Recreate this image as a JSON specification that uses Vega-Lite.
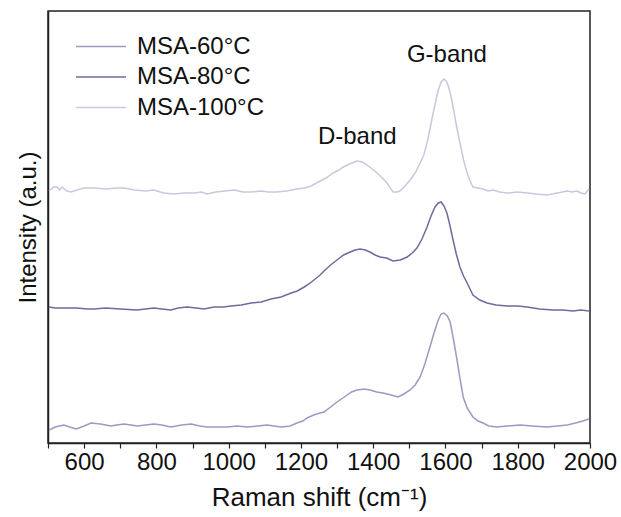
{
  "$schema": "https://vega.github.io/schema/vega-lite/v6.json",
  "autosize": "none",
  "padding": {"left": 48, "top": 11, "right": 31, "bottom": 74},
  "width": 542,
  "height": 432,
  "config": {
    "font": "Liberation Sans",
    "view": {"stroke": "#222", "strokeWidth": 1.5}
  },
  "datasets": {
    "spectra": [
      {"s":"MSA-100°C","x":503,"y":252},{"s":"MSA-100°C","x":515,"y":256},{"s":"MSA-100°C","x":525,"y":256},{"s":"MSA-100°C","x":532,"y":253},{"s":"MSA-100°C","x":539,"y":256},{"s":"MSA-100°C","x":552,"y":252},{"s":"MSA-100°C","x":564,"y":251},{"s":"MSA-100°C","x":580,"y":253},{"s":"MSA-100°C","x":600,"y":255},{"s":"MSA-100°C","x":627,"y":255},{"s":"MSA-100°C","x":660,"y":254},{"s":"MSA-100°C","x":690,"y":255},{"s":"MSA-100°C","x":710,"y":255},{"s":"MSA-100°C","x":740,"y":253},{"s":"MSA-100°C","x":770,"y":252},{"s":"MSA-100°C","x":793,"y":253},{"s":"MSA-100°C","x":820,"y":250},{"s":"MSA-100°C","x":849,"y":249},{"s":"MSA-100°C","x":875,"y":250},{"s":"MSA-100°C","x":904,"y":250},{"s":"MSA-100°C","x":925,"y":251},{"s":"MSA-100°C","x":940,"y":249},{"s":"MSA-100°C","x":965,"y":251},{"s":"MSA-100°C","x":990,"y":252},{"s":"MSA-100°C","x":1015,"y":253},{"s":"MSA-100°C","x":1040,"y":251},{"s":"MSA-100°C","x":1062,"y":251},{"s":"MSA-100°C","x":1090,"y":252},{"s":"MSA-100°C","x":1110,"y":251},{"s":"MSA-100°C","x":1134,"y":251},{"s":"MSA-100°C","x":1160,"y":252},{"s":"MSA-100°C","x":1189,"y":254},{"s":"MSA-100°C","x":1210,"y":255},{"s":"MSA-100°C","x":1228,"y":257},{"s":"MSA-100°C","x":1253,"y":262},{"s":"MSA-100°C","x":1270,"y":265},{"s":"MSA-100°C","x":1289,"y":270},{"s":"MSA-100°C","x":1305,"y":273},{"s":"MSA-100°C","x":1317,"y":276},{"s":"MSA-100°C","x":1335,"y":279},{"s":"MSA-100°C","x":1355,"y":282},{"s":"MSA-100°C","x":1370,"y":281},{"s":"MSA-100°C","x":1383,"y":278},{"s":"MSA-100°C","x":1397,"y":274},{"s":"MSA-100°C","x":1411,"y":270},{"s":"MSA-100°C","x":1425,"y":265},{"s":"MSA-100°C","x":1438,"y":260},{"s":"MSA-100°C","x":1447,"y":255},{"s":"MSA-100°C","x":1455,"y":251},{"s":"MSA-100°C","x":1465,"y":251},{"s":"MSA-100°C","x":1474,"y":252},{"s":"MSA-100°C","x":1488,"y":257},{"s":"MSA-100°C","x":1502,"y":263},{"s":"MSA-100°C","x":1516,"y":270},{"s":"MSA-100°C","x":1530,"y":280},{"s":"MSA-100°C","x":1540,"y":288},{"s":"MSA-100°C","x":1549,"y":300},{"s":"MSA-100°C","x":1557,"y":314},{"s":"MSA-100°C","x":1566,"y":330},{"s":"MSA-100°C","x":1573,"y":342},{"s":"MSA-100°C","x":1580,"y":353},{"s":"MSA-100°C","x":1588,"y":361},{"s":"MSA-100°C","x":1596,"y":364},{"s":"MSA-100°C","x":1602,"y":362},{"s":"MSA-100°C","x":1607,"y":358},{"s":"MSA-100°C","x":1614,"y":349},{"s":"MSA-100°C","x":1621,"y":336},{"s":"MSA-100°C","x":1630,"y":318},{"s":"MSA-100°C","x":1640,"y":300},{"s":"MSA-100°C","x":1650,"y":283},{"s":"MSA-100°C","x":1660,"y":270},{"s":"MSA-100°C","x":1668,"y":262},{"s":"MSA-100°C","x":1676,"y":256},{"s":"MSA-100°C","x":1690,"y":255},{"s":"MSA-100°C","x":1704,"y":254},{"s":"MSA-100°C","x":1718,"y":252},{"s":"MSA-100°C","x":1732,"y":253},{"s":"MSA-100°C","x":1750,"y":251},{"s":"MSA-100°C","x":1771,"y":250},{"s":"MSA-100°C","x":1800,"y":251},{"s":"MSA-100°C","x":1826,"y":250},{"s":"MSA-100°C","x":1850,"y":249},{"s":"MSA-100°C","x":1881,"y":248},{"s":"MSA-100°C","x":1910,"y":250},{"s":"MSA-100°C","x":1937,"y":252},{"s":"MSA-100°C","x":1950,"y":251},{"s":"MSA-100°C","x":1964,"y":252},{"s":"MSA-100°C","x":1975,"y":250},{"s":"MSA-100°C","x":1986,"y":249},{"s":"MSA-100°C","x":1997,"y":254},
      {"s":"MSA-80°C","x":503,"y":136},{"s":"MSA-80°C","x":520,"y":135},{"s":"MSA-80°C","x":544,"y":135},{"s":"MSA-80°C","x":580,"y":135},{"s":"MSA-80°C","x":610,"y":134},{"s":"MSA-80°C","x":627,"y":134},{"s":"MSA-80°C","x":660,"y":135},{"s":"MSA-80°C","x":700,"y":134},{"s":"MSA-80°C","x":746,"y":133},{"s":"MSA-80°C","x":770,"y":134},{"s":"MSA-80°C","x":793,"y":135},{"s":"MSA-80°C","x":815,"y":134},{"s":"MSA-80°C","x":840,"y":133},{"s":"MSA-80°C","x":860,"y":135},{"s":"MSA-80°C","x":885,"y":136},{"s":"MSA-80°C","x":910,"y":135},{"s":"MSA-80°C","x":932,"y":134},{"s":"MSA-80°C","x":960,"y":136},{"s":"MSA-80°C","x":985,"y":136},{"s":"MSA-80°C","x":1007,"y":137},{"s":"MSA-80°C","x":1035,"y":138},{"s":"MSA-80°C","x":1062,"y":140},{"s":"MSA-80°C","x":1090,"y":141},{"s":"MSA-80°C","x":1117,"y":144},{"s":"MSA-80°C","x":1145,"y":146},{"s":"MSA-80°C","x":1173,"y":150},{"s":"MSA-80°C","x":1190,"y":152},{"s":"MSA-80°C","x":1209,"y":156},{"s":"MSA-80°C","x":1222,"y":159},{"s":"MSA-80°C","x":1236,"y":163},{"s":"MSA-80°C","x":1253,"y":168},{"s":"MSA-80°C","x":1264,"y":172},{"s":"MSA-80°C","x":1282,"y":178},{"s":"MSA-80°C","x":1300,"y":183},{"s":"MSA-80°C","x":1318,"y":188},{"s":"MSA-80°C","x":1336,"y":191},{"s":"MSA-80°C","x":1350,"y":193},{"s":"MSA-80°C","x":1364,"y":194},{"s":"MSA-80°C","x":1378,"y":193},{"s":"MSA-80°C","x":1391,"y":191},{"s":"MSA-80°C","x":1405,"y":188},{"s":"MSA-80°C","x":1419,"y":186},{"s":"MSA-80°C","x":1437,"y":185},{"s":"MSA-80°C","x":1455,"y":182},{"s":"MSA-80°C","x":1475,"y":183},{"s":"MSA-80°C","x":1494,"y":186},{"s":"MSA-80°C","x":1508,"y":190},{"s":"MSA-80°C","x":1521,"y":195},{"s":"MSA-80°C","x":1535,"y":204},{"s":"MSA-80°C","x":1549,"y":216},{"s":"MSA-80°C","x":1560,"y":227},{"s":"MSA-80°C","x":1571,"y":236},{"s":"MSA-80°C","x":1580,"y":240},{"s":"MSA-80°C","x":1588,"y":241},{"s":"MSA-80°C","x":1596,"y":237},{"s":"MSA-80°C","x":1604,"y":230},{"s":"MSA-80°C","x":1612,"y":218},{"s":"MSA-80°C","x":1621,"y":203},{"s":"MSA-80°C","x":1630,"y":189},{"s":"MSA-80°C","x":1640,"y":176},{"s":"MSA-80°C","x":1650,"y":167},{"s":"MSA-80°C","x":1660,"y":160},{"s":"MSA-80°C","x":1676,"y":148},{"s":"MSA-80°C","x":1695,"y":143},{"s":"MSA-80°C","x":1715,"y":140},{"s":"MSA-80°C","x":1740,"y":138},{"s":"MSA-80°C","x":1771,"y":137},{"s":"MSA-80°C","x":1800,"y":137},{"s":"MSA-80°C","x":1826,"y":136},{"s":"MSA-80°C","x":1860,"y":134},{"s":"MSA-80°C","x":1898,"y":133},{"s":"MSA-80°C","x":1925,"y":133},{"s":"MSA-80°C","x":1953,"y":132},{"s":"MSA-80°C","x":1975,"y":133},{"s":"MSA-80°C","x":1997,"y":132},
      {"s":"MSA-60°C","x":503,"y":13},{"s":"MSA-60°C","x":520,"y":16},{"s":"MSA-60°C","x":544,"y":18},{"s":"MSA-60°C","x":560,"y":16},{"s":"MSA-60°C","x":578,"y":14},{"s":"MSA-60°C","x":600,"y":17},{"s":"MSA-60°C","x":619,"y":20},{"s":"MSA-60°C","x":645,"y":19},{"s":"MSA-60°C","x":674,"y":17},{"s":"MSA-60°C","x":690,"y":18},{"s":"MSA-60°C","x":710,"y":19},{"s":"MSA-60°C","x":730,"y":18},{"s":"MSA-60°C","x":746,"y":17},{"s":"MSA-60°C","x":770,"y":18},{"s":"MSA-60°C","x":793,"y":19},{"s":"MSA-60°C","x":815,"y":18},{"s":"MSA-60°C","x":840,"y":16},{"s":"MSA-60°C","x":870,"y":18},{"s":"MSA-60°C","x":896,"y":19},{"s":"MSA-60°C","x":920,"y":17},{"s":"MSA-60°C","x":940,"y":16},{"s":"MSA-60°C","x":970,"y":16},{"s":"MSA-60°C","x":995,"y":16},{"s":"MSA-60°C","x":1025,"y":17},{"s":"MSA-60°C","x":1051,"y":16},{"s":"MSA-60°C","x":1080,"y":17},{"s":"MSA-60°C","x":1106,"y":18},{"s":"MSA-60°C","x":1125,"y":17},{"s":"MSA-60°C","x":1145,"y":16},{"s":"MSA-60°C","x":1170,"y":17},{"s":"MSA-60°C","x":1189,"y":20},{"s":"MSA-60°C","x":1205,"y":22},{"s":"MSA-60°C","x":1217,"y":25},{"s":"MSA-60°C","x":1235,"y":28},{"s":"MSA-60°C","x":1253,"y":30},{"s":"MSA-60°C","x":1264,"y":31},{"s":"MSA-60°C","x":1282,"y":36},{"s":"MSA-60°C","x":1300,"y":41},{"s":"MSA-60°C","x":1320,"y":46},{"s":"MSA-60°C","x":1340,"y":51},{"s":"MSA-60°C","x":1355,"y":53},{"s":"MSA-60°C","x":1375,"y":54},{"s":"MSA-60°C","x":1391,"y":53},{"s":"MSA-60°C","x":1410,"y":51},{"s":"MSA-60°C","x":1427,"y":50},{"s":"MSA-60°C","x":1450,"y":48},{"s":"MSA-60°C","x":1469,"y":46},{"s":"MSA-60°C","x":1485,"y":49},{"s":"MSA-60°C","x":1502,"y":53},{"s":"MSA-60°C","x":1516,"y":58},{"s":"MSA-60°C","x":1530,"y":66},{"s":"MSA-60°C","x":1543,"y":79},{"s":"MSA-60°C","x":1557,"y":96},{"s":"MSA-60°C","x":1570,"y":112},{"s":"MSA-60°C","x":1580,"y":123},{"s":"MSA-60°C","x":1588,"y":129},{"s":"MSA-60°C","x":1596,"y":130},{"s":"MSA-60°C","x":1605,"y":127},{"s":"MSA-60°C","x":1613,"y":121},{"s":"MSA-60°C","x":1622,"y":104},{"s":"MSA-60°C","x":1632,"y":83},{"s":"MSA-60°C","x":1640,"y":65},{"s":"MSA-60°C","x":1649,"y":46},{"s":"MSA-60°C","x":1660,"y":35},{"s":"MSA-60°C","x":1676,"y":26},{"s":"MSA-60°C","x":1690,"y":22},{"s":"MSA-60°C","x":1704,"y":20},{"s":"MSA-60°C","x":1720,"y":17},{"s":"MSA-60°C","x":1743,"y":16},{"s":"MSA-60°C","x":1770,"y":17},{"s":"MSA-60°C","x":1807,"y":18},{"s":"MSA-60°C","x":1840,"y":17},{"s":"MSA-60°C","x":1881,"y":16},{"s":"MSA-60°C","x":1910,"y":17},{"s":"MSA-60°C","x":1937,"y":18},{"s":"MSA-60°C","x":1960,"y":20},{"s":"MSA-60°C","x":1980,"y":22},{"s":"MSA-60°C","x":1997,"y":24}
    ],
    "labels": [
      {"label": "D-band", "x": 1356, "y": 306},
      {"label": "G-band", "x": 1604, "y": 388}
    ]
  },
  "encoding": {
    "x": {
      "field": "x", "type": "quantitative",
      "scale": {"domain": [500, 2000], "nice": false, "zero": false},
      "axis": {
        "title": "Raman shift (cm⁻¹)",
        "values": [500,600,700,800,900,1000,1100,1200,1300,1400,1500,1600,1700,1800,1900,2000],
        "labelExpr": "datum.value % 200 == 0 ? format(datum.value, 'd') : ''",
        "grid": false,
        "domainColor": "#222", "domainWidth": 1.5,
        "tickColor": "#222", "tickSize": 5, "tickWidth": 1.2,
        "labelFontSize": 24, "labelColor": "#111", "labelPadding": 2,
        "labelFlush": false, "labelOverlap": false,
        "titleFontSize": 26, "titleFontWeight": "normal", "titleColor": "#111", "titlePadding": 10
      }
    },
    "y": {
      "field": "y", "type": "quantitative",
      "scale": {"domain": [0, 432], "nice": false},
      "axis": {
        "title": "Intensity (a.u.)",
        "labels": false, "ticks": false, "grid": false,
        "domainColor": "#222", "domainWidth": 1.5,
        "titleFontSize": 24, "titleFontWeight": "normal", "titleColor": "#111", "titlePadding": 8
      }
    }
  },
  "layer": [
    {
      "data": {"name": "spectra"},
      "mark": {"type": "line", "strokeWidth": 1.5, "interpolate": "linear"},
      "encoding": {
        "color": {
          "field": "s", "type": "nominal",
          "scale": {"domain": ["MSA-60°C", "MSA-80°C", "MSA-100°C"], "range": ["#9a9ac4", "#6c6c9c", "#c8c8de"]},
          "legend": {
            "title": null,
            "orient": "none", "legendX": 27, "legendY": 21,
            "symbolType": "stroke", "symbolSize": 2500, "symbolStrokeWidth": 1.5,
            "labelFontSize": 24, "labelColor": "#111", "labelOffset": 10,
            "clipHeight": 29, "rowPadding": 1.5, "padding": 0
          }
        }
      }
    },
    {
      "data": {"name": "labels"},
      "mark": {"type": "text", "fontSize": 24, "color": "#111", "align": "center", "baseline": "middle"},
      "encoding": {
        "text": {"field": "label"}
      }
    }
  ]
}
